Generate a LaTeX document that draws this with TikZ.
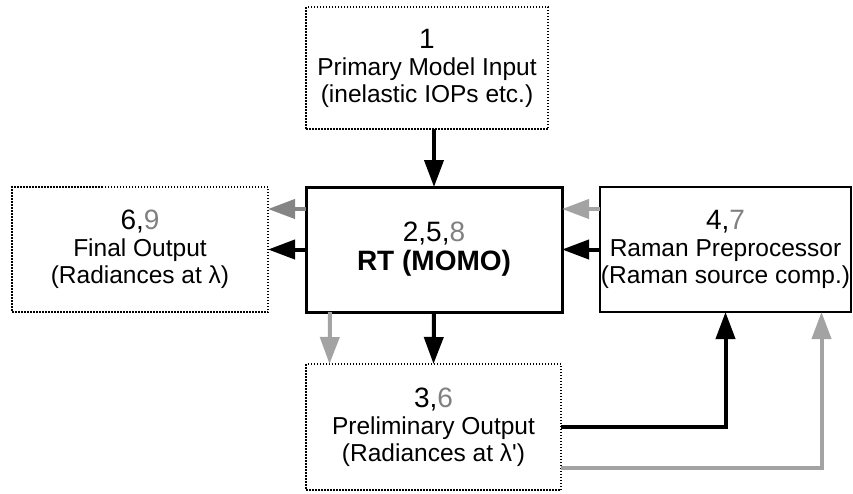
\documentclass[tikz,border=0pt]{standalone}
\usepackage{fontspec}
\setmainfont{Liberation Sans}
\usetikzlibrary{arrows.meta,calc}
\definecolor{numgray}{HTML}{808080}
\definecolor{grayA}{HTML}{858585}
\definecolor{grayB}{HTML}{A3A3A3}
\newcommand{\numfont}{\fontsize{28}{30}\selectfont}
\begin{document}
\begin{tikzpicture}[x=1pt,y=-1pt,
  box/.style={draw,rectangle,inner sep=0pt,outer sep=0pt,align=center,
    font=\fontsize{24.5}{27}\selectfont},
  dotbox/.style={box,line width=1.5pt,dash pattern=on 1.5pt off 1.5pt},
  mainbox/.style={box,line width=3pt},
  plainbox/.style={box,line width=1.8pt},
  arr/.style={line width=4pt,-{Triangle[length=27pt,width=19pt]}},
  blk/.style={arr,black},
  gryA/.style={arr,grayA},
  gryB/.style={arr,grayB}]
\useasboundingbox (0,0) rectangle (853,493);

\node[dotbox,minimum width=242pt,minimum height=122pt] (top) at (427,68)
  {{\numfont 1}\\Primary Model Input\\(inelastic IOPs etc.)};
\node[dotbox,minimum width=256pt,minimum height=125pt] (left) at (140,249.5)
  {{\numfont 6,\textcolor{numgray}{9}}\\Final Output\\(Radiances at λ)};
\node[mainbox,minimum width=256pt,minimum height=125pt] (ctr) at (434,249.5)
  {{\numfont 2,5,\textcolor{numgray}{8}}\\[2pt]{\numfont\bfseries RT (MOMO)}};
\node[plainbox,minimum width=251pt,minimum height=125pt] (right) at (725.5,249.5)
  {{\numfont 4,\textcolor{numgray}{7}}\\Raman Preprocessor\\(Raman source comp.)};
\node[dotbox,minimum width=255pt,minimum height=126pt] (bot) at (433.5,427)
  {{\numfont 3,\textcolor{numgray}{6}}\\Preliminary Output\\(Radiances at λ\textquotesingle)};

% top -> center
\draw[blk] (ctr.north |- top.south) -- (ctr.north);
% center -> left
\draw[gryA] ([yshift=40.5pt]ctr.west) -- ([yshift=40.5pt]left.east);
\draw[blk] (ctr.west) -- (left.east);
% right -> center
\draw[gryB] ([yshift=40.5pt]right.west) -- ([yshift=40.5pt]ctr.east);
\draw[blk] (right.west) -- (ctr.east);
% center -> bottom
\draw[gryB] ([xshift=-104pt]ctr.south) -- ([xshift=-104pt]bot.north);
\draw[blk] (ctr.south) -- (bot.north);
% bottom -> right
\draw[blk] (bot.east) -| (right.south);
\draw[gryB] ([yshift=-41pt]bot.east) -| ([xshift=96pt]right.south);
\end{tikzpicture}
\end{document}
